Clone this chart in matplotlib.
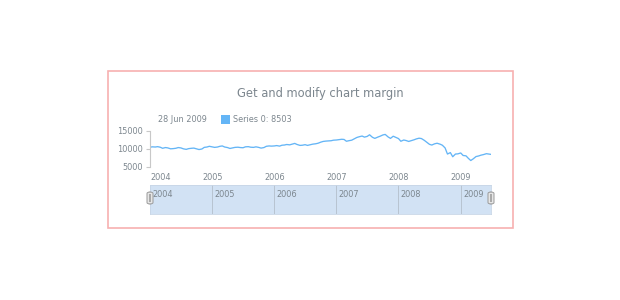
import matplotlib
matplotlib.use("Agg")
import matplotlib.pyplot as plt
import matplotlib.dates as mdates
from matplotlib.patches import Rectangle, FancyBboxPatch
import pandas as pd

# semi-monthly readings (1st and 15th), Jan 2004 .. Jun 2009, plus the last day
values_2004 = [10500, 10600, 10550, 10650, 10500, 10200, 10400, 10300, 10050, 10100, 10200, 10400,
               10300, 10050, 9900, 10100, 10200, 10250, 10050, 9850, 10000, 10450, 10550, 10750]
values_2005 = [10600, 10450, 10550, 10750, 10850, 10550, 10400, 10150, 10300, 10450, 10500, 10400,
               10350, 10600, 10650, 10500, 10450, 10600, 10450, 10250, 10400, 10750, 10850, 10800]
values_2006 = [10850, 10950, 10800, 11050, 11100, 11250, 11150, 11350, 11550, 11250, 11000, 11050,
               11200, 11000, 11200, 11350, 11450, 11600, 11900, 12100, 12200, 12250, 12300, 12450]
values_2007 = [12500, 12600, 12700, 12650, 12150, 12300, 12450, 12800, 13200, 13400, 13600, 13300,
               13500, 13950, 13250, 12950, 13300, 13550, 13900, 14050, 13350, 12950, 13550, 13250]
values_2008 = [12900, 12150, 12500, 12350, 12100, 12300, 12550, 12800, 13000, 12900, 12400, 11900,
               11300, 11100, 11450, 11600, 11350, 11050, 10300, 8600, 9000, 7850, 8600, 8650]
values_2009 = [8900, 8200, 8100, 7400, 6800, 7250, 7900, 8050, 8300, 8450, 8700, 8600]
last_date = "2009-06-28"
last_value = 8503

years = [2004, 2005, 2006, 2007, 2008, 2009]
title = "Get and modify chart margin"
legend_date = "28 Jun 2009"
series_name = "Series 0"

values = values_2004 + values_2005 + values_2006 + values_2007 + values_2008 + values_2009 + [last_value]
dates = list(pd.date_range("2004-01-01", "2009-06-15", freq="SMS")) + [pd.Timestamp(last_date)]

W, H = 620, 300
line_color = "#64b5f6"
text_color = "#7c868e"

fig = plt.figure(figsize=(6.2, 3.0), dpi=100)


def fx(px):
    return px / W


def fy(py):
    return 1 - py / H


# outer border
fig.patches.append(Rectangle((fx(108), fy(228)), fx(513) - fx(108), fy(71) - fy(228),
                             transform=fig.transFigure, fill=False, edgecolor="#f7b0b0",
                             linewidth=1.2))

fig.text(fx(320), fy(93), title, ha="center", va="center", fontsize=8.3, color=text_color)

# legend line
fig.text(fx(158), fy(119), legend_date, ha="left", va="center", fontsize=5.9, color=text_color)
fig.patches.append(Rectangle((fx(220.5), fy(124)), fx(9), 9 / H, transform=fig.transFigure,
                             facecolor=line_color, edgecolor="none"))
fig.text(fx(233), fy(119), "%s: %d" % (series_name, last_value), ha="left", va="center",
         fontsize=5.9, color=text_color)

# main plot
ax = fig.add_axes([fx(150), fy(167), fx(491) - fx(150), (167 - 131) / H])
ax.plot(dates, values, color=line_color, linewidth=0.95)
ax.set_xlim(dates[0], dates[-1])
ax.set_ylim(5000, 15000)
ax.set_yticks([5000, 10000, 15000])
ax.set_xticks([pd.Timestamp("%d-01-01" % y) for y in years])
ax.set_xticklabels([str(y) for y in years])
ax.tick_params(axis="y", length=3, width=0.8, color="#c8c8c8", labelsize=5.9,
               labelcolor=text_color, pad=2)
ax.tick_params(axis="x", length=0, labelsize=5.9, labelcolor=text_color, pad=4)
ax.get_xticklabels()[0].set_horizontalalignment("left")
for s in ["top", "right", "bottom"]:
    ax.spines[s].set_visible(False)
ax.spines["left"].set_color("#c8c8c8")
ax.spines["left"].set_linewidth(0.8)
ax.patch.set_alpha(0)

# scroller
sc = fig.add_axes([fx(150), fy(214), fx(491) - fx(150), (214 - 185) / H])
sc.set_facecolor("#d2e2f4")
sc.set_xlim(dates[0], dates[-1])
sc.set_ylim(0, 1)
for y in years:
    d = pd.Timestamp("%d-01-01" % y)
    if y > years[0]:
        sc.axvline(d, color="#b8c4d0", linewidth=0.7)
    sc.text(mdates.date2num(d) + 14, 0.84, str(y), ha="left", va="top", fontsize=5.9,
            color=text_color)
sc.set_xticks([])
sc.set_yticks([])
for s in sc.spines.values():
    s.set_color("#c8d6e6")
    s.set_linewidth(0.6)

# scroller handles
for hx in [150, 491]:
    fig.patches.append(FancyBboxPatch((fx(hx - 3), fy(204)), fx(6), 12 / H,
                                      boxstyle="round,pad=0,rounding_size=0.005",
                                      transform=fig.transFigure, facecolor="#e6e6e6",
                                      edgecolor="#999999", linewidth=0.7, zorder=5))
    fig.patches.append(Rectangle((fx(hx - 0.6), fy(202)), fx(1.2), 8 / H,
                                 transform=fig.transFigure, facecolor="#aaaaaa",
                                 edgecolor="none", zorder=6))

fig.savefig("out.png", dpi=100, facecolor="white")
